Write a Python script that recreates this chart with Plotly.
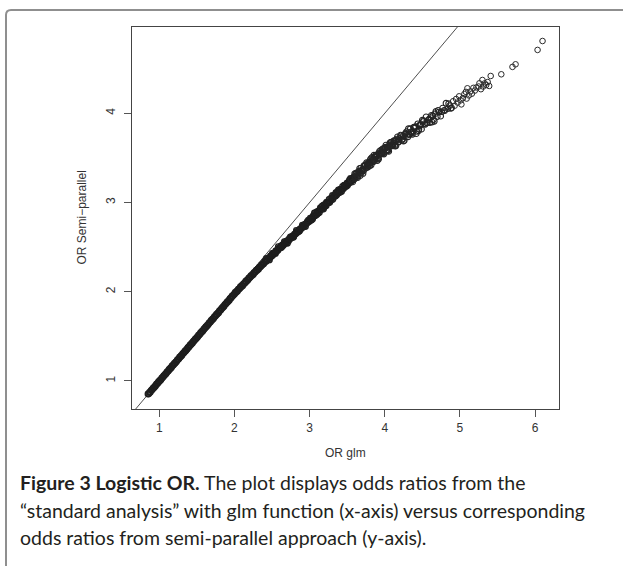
import plotly.graph_objects as go

# ---------------- data ----------------
# dense part of the cloud (OR glm 0.85 .. 3.60)
or_glm_dense = [
    0.85, 0.86, 0.87, 0.88, 0.89, 0.90, 0.91, 0.92, 0.93, 0.94,
    0.95, 0.96, 0.97, 0.98, 0.99, 1.00, 1.01, 1.02, 1.03, 1.04,
    1.05, 1.06, 1.07, 1.08, 1.09, 1.10, 1.11, 1.12, 1.13, 1.14,
    1.15, 1.16, 1.17, 1.18, 1.19, 1.20, 1.21, 1.22, 1.23, 1.24,
    1.25, 1.26, 1.27, 1.28, 1.29, 1.30, 1.31, 1.32, 1.33, 1.34,
    1.35, 1.36, 1.37, 1.38, 1.39, 1.40, 1.41, 1.42, 1.43, 1.44,
    1.45, 1.46, 1.47, 1.48, 1.49, 1.50, 1.51, 1.52, 1.53, 1.54,
    1.55, 1.56, 1.57, 1.58, 1.59, 1.60, 1.61, 1.62, 1.63, 1.64,
    1.65, 1.66, 1.67, 1.68, 1.69, 1.70, 1.71, 1.72, 1.73, 1.74,
    1.75, 1.76, 1.77, 1.78, 1.79, 1.80, 1.81, 1.82, 1.83, 1.84,
    1.85, 1.86, 1.87, 1.88, 1.89, 1.90, 1.91, 1.92, 1.93, 1.94,
    1.95, 1.96, 1.97, 1.98, 1.99, 2.00, 2.01, 2.02, 2.03, 2.04,
    2.05, 2.06, 2.07, 2.08, 2.09, 2.10, 2.11, 2.12, 2.13, 2.14,
    2.15, 2.16, 2.17, 2.18, 2.19, 2.20, 2.21, 2.22, 2.23, 2.24,
    2.25, 2.26, 2.27, 2.28, 2.29, 2.30, 2.31, 2.32, 2.33, 2.34,
    2.35, 2.36, 2.37, 2.38, 2.39, 2.40, 2.41, 2.42, 2.43, 2.44,
    2.45, 2.46, 2.47, 2.48, 2.49, 2.50, 2.51, 2.52, 2.53, 2.54,
    2.55, 2.56, 2.57, 2.58, 2.59, 2.60, 2.61, 2.62, 2.63, 2.64,
    2.65, 2.66, 2.67, 2.68, 2.69, 2.70, 2.71, 2.72, 2.73, 2.74,
    2.75, 2.76, 2.77, 2.78, 2.79, 2.80, 2.81, 2.82, 2.83, 2.84,
    2.85, 2.86, 2.87, 2.88, 2.89, 2.90, 2.91, 2.92, 2.93, 2.94,
    2.95, 2.96, 2.97, 2.98, 2.99, 3.00, 3.01, 3.02, 3.03, 3.04,
    3.05, 3.06, 3.07, 3.08, 3.09, 3.10, 3.11, 3.12, 3.13, 3.14,
    3.15, 3.16, 3.17, 3.18, 3.19, 3.20, 3.21, 3.22, 3.23, 3.24,
    3.25, 3.26, 3.27, 3.28, 3.29, 3.30, 3.31, 3.32, 3.33, 3.34,
    3.35, 3.36, 3.37, 3.38, 3.39, 3.40, 3.41, 3.42, 3.43, 3.44,
    3.45, 3.46, 3.47, 3.48, 3.49, 3.50, 3.51, 3.52, 3.53, 3.54,
    3.55, 3.56, 3.57, 3.58, 3.59, 3.60,
]
or_semi_dense = [
    0.854, 0.857, 0.871, 0.874, 0.892, 0.899, 0.907, 0.923, 0.925, 0.939,
    0.943, 0.961, 0.968, 0.975, 0.991, 0.994, 1.008, 1.012, 1.029, 1.036,
    1.044, 1.060, 1.063, 1.076, 1.080, 1.098, 1.105, 1.113, 1.128, 1.131,
    1.145, 1.149, 1.167, 1.173, 1.181, 1.197, 1.200, 1.214, 1.217, 1.235,
    1.242, 1.250, 1.266, 1.268, 1.282, 1.286, 1.304, 1.311, 1.318, 1.334,
    1.337, 1.351, 1.355, 1.372, 1.379, 1.387, 1.403, 1.406, 1.419, 1.423,
    1.441, 1.448, 1.456, 1.471, 1.474, 1.488, 1.492, 1.510, 1.516, 1.524,
    1.540, 1.543, 1.557, 1.560, 1.578, 1.585, 1.593, 1.609, 1.611, 1.625,
    1.629, 1.647, 1.654, 1.661, 1.677, 1.680, 1.694, 1.698, 1.715, 1.722,
    1.730, 1.746, 1.749, 1.762, 1.766, 1.784, 1.791, 1.799, 1.814, 1.817,
    1.831, 1.835, 1.853, 1.859, 1.867, 1.883, 1.886, 1.900, 1.903, 1.921,
    1.928, 1.936, 1.952, 1.954, 1.968, 1.972, 1.992, 1.991, 2.006, 2.006,
    2.026, 2.031, 2.037, 2.055, 2.054, 2.069, 2.068, 2.088, 2.093, 2.099,
    2.117, 2.116, 2.131, 2.131, 2.151, 2.156, 2.162, 2.179, 2.178, 2.193,
    2.193, 2.212, 2.217, 2.223, 2.240, 2.239, 2.254, 2.253, 2.273, 2.278,
    2.284, 2.301, 2.300, 2.315, 2.314, 2.334, 2.346, 2.340, 2.357, 2.352,
    2.376, 2.377, 2.382, 2.402, 2.396, 2.413, 2.408, 2.432, 2.433, 2.438,
    2.458, 2.452, 2.469, 2.464, 2.488, 2.489, 2.494, 2.513, 2.507, 2.523,
    2.518, 2.541, 2.542, 2.546, 2.566, 2.559, 2.576, 2.570, 2.594, 2.594,
    2.599, 2.618, 2.612, 2.628, 2.623, 2.646, 2.647, 2.652, 2.672, 2.666,
    2.683, 2.678, 2.702, 2.703, 2.708, 2.728, 2.722, 2.739, 2.734, 2.758,
    2.759, 2.764, 2.784, 2.778, 2.795, 2.790, 2.823, 2.807, 2.830, 2.815,
    2.851, 2.847, 2.851, 2.886, 2.860, 2.898, 2.881, 2.904, 2.889, 2.926,
    2.921, 2.925, 2.960, 2.935, 2.972, 2.955, 2.978, 2.964, 3.000, 2.995,
    2.999, 3.035, 3.009, 3.046, 3.029, 3.053, 3.038, 3.074, 3.069, 3.074,
    3.109, 3.083, 3.120, 3.104, 3.127, 3.112, 3.148, 3.142, 3.146, 3.181,
    3.155, 3.192, 3.174, 3.197, 3.182, 3.218, 3.212, 3.216, 3.251, 3.225,
    3.261, 3.244, 3.267, 3.252, 3.287, 3.282,
]

# extra points widening the band (OR glm 2.4 .. 3.6)
or_glm_band2 = [
    2.425, 2.465, 2.505, 2.545, 2.585, 2.625, 2.665, 2.705, 2.745, 2.785,
    2.825, 2.865, 2.905, 2.945, 2.985, 3.025, 3.065, 3.105, 3.145, 3.185,
    3.225, 3.265, 3.305, 3.345, 3.385, 3.425, 3.465, 3.505, 3.545, 3.585,
]
or_semi_band2 = [
    2.372, 2.357, 2.429, 2.428, 2.506, 2.497, 2.561, 2.544, 2.614, 2.611,
    2.688, 2.680, 2.746, 2.731, 2.803, 2.803, 2.882, 2.875, 2.942, 2.928,
    3.001, 3.001, 3.080, 3.073, 3.140, 3.124, 3.195, 3.193, 3.270, 3.261,
]

# middle part (OR glm 3.55 .. 4.9)
or_glm_mid = [
    3.612, 3.625, 3.634, 3.648, 3.660, 3.671, 3.683, 3.697, 3.705, 3.718,
    3.730, 3.742, 3.751, 3.766, 3.778, 3.790, 3.801, 3.815, 3.826, 3.838,
    3.850, 3.862, 3.874, 3.886, 3.897, 3.910, 3.923, 3.935, 3.944, 3.958,
    3.970, 3.983, 3.996, 4.008, 4.021, 4.035, 4.047, 4.060, 4.074, 4.088,
    4.100, 4.115, 4.130, 4.145, 4.160, 4.178, 4.195,
    4.21, 4.23, 4.245, 4.26, 4.28, 4.30, 4.315, 4.33, 4.35, 4.37,
    4.385, 4.40, 4.42, 4.44, 4.455, 4.47, 4.49, 4.51, 4.53, 4.55,
    4.565, 4.58, 4.60, 4.62, 4.64, 4.66, 4.68, 4.70, 4.72, 4.745,
    4.77, 4.79, 4.815, 4.84, 4.865, 4.89,
    3.605, 3.618, 3.641, 3.655, 3.666, 3.689, 3.702, 3.712, 3.736, 3.758,
    3.772, 3.784, 3.808, 3.820, 3.844, 3.856, 3.868, 3.880, 3.903, 3.916,
    3.929, 3.950, 3.964, 3.977, 3.990, 4.002, 4.015, 4.028, 4.041, 4.054,
    4.067, 4.081, 4.094, 4.108, 4.122, 4.138, 4.152, 4.169, 4.186, 4.220,
    4.250, 4.270, 4.290, 4.320, 4.360, 4.390, 4.430, 4.460, 4.500, 4.540,
    4.590, 4.630, 4.670, 4.710, 4.760, 4.800, 4.850, 4.880,
    3.550, 3.575, 3.600, 3.630, 3.650, 3.675, 3.700, 3.725, 3.750, 3.775,
    3.800, 3.830, 3.860, 3.890, 3.920, 3.940, 3.965, 3.990, 4.010, 4.040,
    4.070, 4.095, 4.120, 4.150, 4.180, 4.215, 4.240, 4.275, 4.310, 4.340,
    4.375, 4.410, 4.450, 4.480, 4.520, 4.560, 4.610, 4.650,
]
or_semi_mid = [
    3.320, 3.287, 3.320, 3.293, 3.348, 3.337, 3.386, 3.351, 3.371, 3.354,
    3.409, 3.424, 3.388, 3.426, 3.397, 3.452, 3.441, 3.491, 3.452, 3.475,
    3.456, 3.510, 3.524, 3.489, 3.523, 3.495, 3.549, 3.538, 3.584, 3.548,
    3.570, 3.553, 3.607, 3.620, 3.585, 3.619, 3.588, 3.641, 3.629, 3.678,
    3.638, 3.661, 3.643, 3.697, 3.711, 3.679, 3.715,
    3.756, 3.697, 3.745, 3.693, 3.779, 3.755, 3.828, 3.762, 3.793, 3.764,
    3.842, 3.835, 3.772, 3.883, 3.822, 3.870, 3.822, 3.908, 3.885, 3.961,
    3.895, 3.924, 3.895, 3.977, 3.973, 3.910, 4.021, 3.963, 4.014, 3.968,
    4.058, 4.034, 4.113, 4.052, 4.086, 4.060,
    3.269, 3.329, 3.278, 3.339, 3.383, 3.331, 3.372, 3.325, 3.414, 3.446,
    3.413, 3.412, 3.481, 3.420, 3.487, 3.531, 3.469, 3.508, 3.470, 3.549,
    3.574, 3.544, 3.544, 3.603, 3.543, 3.601, 3.644, 3.582, 3.620, 3.572,
    3.650, 3.674, 3.636, 3.635, 3.693, 3.633, 3.691, 3.736, 3.677, 3.726,
    3.688, 3.769, 3.795, 3.766, 3.778, 3.845, 3.797, 3.865, 3.923, 3.876,
    3.934, 3.902, 3.995, 4.033, 4.017, 4.030, 4.108, 4.054,
    3.258, 3.231, 3.325, 3.301, 3.350, 3.300, 3.365, 3.415, 3.385, 3.437,
    3.410, 3.507, 3.481, 3.535, 3.487, 3.547, 3.595, 3.563, 3.608, 3.579,
    3.672, 3.639, 3.687, 3.635, 3.698, 3.748, 3.712, 3.763, 3.736, 3.827,
    3.798, 3.851, 3.804, 3.866, 3.919, 3.892, 3.953, 3.929,
]

# sparse upper tail (OR glm > 4.9)
or_glm_tail = [
    4.91, 4.93, 4.95, 4.97, 4.99, 5.01, 5.02, 5.04, 5.06, 5.08,
    5.09, 5.10, 5.12, 5.14, 5.16, 5.18, 5.20, 5.22, 5.25, 5.26,
    5.28, 5.30, 5.31, 5.33, 5.35, 5.37, 5.39, 5.41,
    5.551, 5.700, 5.741, 6.034, 6.100,
]
or_semi_tail = [
    4.135, 4.085, 4.160, 4.120, 4.190, 4.145, 4.100, 4.170, 4.215, 4.240,
    4.165, 4.280, 4.200, 4.245, 4.220, 4.285, 4.255, 4.290, 4.300, 4.336,
    4.270, 4.373, 4.300, 4.335, 4.317, 4.350, 4.306, 4.418,
    4.437, 4.520, 4.549, 4.710, 4.810,
]

# reference line y = x (abline(0, 1))
abline_intercept = 0.0
abline_slope = 1.0

x_ticks = [1, 2, 3, 4, 5, 6]
y_ticks = [1, 2, 3, 4]
x_range = [0.637, 6.319]
y_range = [0.686, 4.967]

x_title = "OR glm"
y_title = "OR Semi\u2212parallel"
caption_lines = [
    "<b>Figure 3 Logistic OR.</b> The plot displays odds ratios from the",
    "\u201cstandard analysis\u201d with glm function (x-axis) versus corresponding",
    "odds ratios from semi-parallel approach (y-axis).",
]

# ---------------- figure ----------------
W, H = 623, 566
ML, MR, MT, MB = 132, 64, 27, 157
PW = W - ML - MR
PH = H - MT - MB


def px_x(p):
    return (p - ML) / PW


def px_y(p):
    return (H - MB - p) / PH


fig = go.Figure()

line_x = list(x_range)
line_y = [abline_intercept + abline_slope * v for v in line_x]
fig.add_trace(go.Scatter(
    x=line_x, y=line_y, mode="lines",
    line=dict(color="#3a3a3a", width=0.9),
    hoverinfo="skip", showlegend=False,
))

dense_marker = dict(symbol="circle-open", size=5.6, color="#1e1e1e",
                    line=dict(width=1.35, color="#1e1e1e"))
mid_marker = dict(symbol="circle-open", size=5.6, color="#252525",
                  line=dict(width=1.1, color="#252525"))
sparse_marker = dict(symbol="circle-open", size=5.6, color="#2a2a2a",
                     line=dict(width=1.0, color="#2a2a2a"))

fig.add_trace(go.Scatter(x=or_glm_dense, y=or_semi_dense, mode="markers",
                         marker=dense_marker, showlegend=False))
fig.add_trace(go.Scatter(x=or_glm_band2, y=or_semi_band2, mode="markers",
                         marker=dense_marker, showlegend=False))
fig.add_trace(go.Scatter(x=or_glm_mid, y=or_semi_mid, mode="markers",
                         marker=mid_marker, showlegend=False))
fig.add_trace(go.Scatter(x=or_glm_tail, y=or_semi_tail, mode="markers",
                         marker=sparse_marker, showlegend=False))

axis_font = dict(family="Liberation Sans, Arial, sans-serif", size=12, color="#333333")

fig.update_xaxes(
    range=x_range, tickvals=x_ticks, ticktext=[str(t) for t in x_ticks],
    ticks="outside", ticklen=7, tickwidth=1, tickcolor="#555555",
    showline=True, linecolor="#444444", linewidth=1, mirror=True,
    showgrid=False, zeroline=False, tickfont=axis_font, ticklabelstandoff=1,
)
fig.update_yaxes(
    range=y_range, tickvals=y_ticks, ticktext=[str(t) for t in y_ticks],
    ticks="outside", ticklen=7, tickwidth=1, tickcolor="#555555",
    showline=True, linecolor="#444444", linewidth=1, mirror=True,
    showgrid=False, zeroline=False, tickfont=axis_font, tickangle=-90,
    ticklabelstandoff=4,
)

annotations = [
    dict(text=x_title, x=0.5, y=px_y(453), xref="paper", yref="paper",
         xanchor="center", yanchor="middle", showarrow=False, font=axis_font),
    dict(text=y_title, x=px_x(81.5), y=0.5, xref="paper", yref="paper",
         xanchor="center", yanchor="middle", showarrow=False, textangle=-90,
         font=axis_font),
]
cap_font = dict(family="Lato, 'Open Sans', sans-serif", size=19.5, color="#231f20")
for line, ypx in zip(caption_lines, [482.7, 510.0, 537.3]):
    annotations.append(dict(
        text=line, x=px_x(18), y=px_y(ypx), xref="paper", yref="paper",
        xanchor="left", yanchor="middle", showarrow=False, font=cap_font,
    ))

# rounded frame of the figure panel
x0, x1 = px_x(6), px_x(630)
y0, y1 = px_y(10), px_y(575)
rx, ry = 5 / PW, 5 / PH
frame_path = (f"M {x0},{y1} L {x0},{y0 - ry} Q {x0},{y0} {x0 + rx},{y0} "
              f"L {x1},{y0}")

fig.update_layout(
    width=W, height=H,
    margin=dict(l=ML, r=MR, t=MT, b=MB, pad=0),
    paper_bgcolor="white", plot_bgcolor="white",
    annotations=annotations,
    shapes=[dict(type="path", path=frame_path, xref="paper", yref="paper",
                 line=dict(color="#8f8f8f", width=2), layer="above")],
)

fig.write_html(
    "out.html",
    config={"displayModeBar": False},
    post_script="document.body.style.margin='0';document.body.style.padding='0';",
)
